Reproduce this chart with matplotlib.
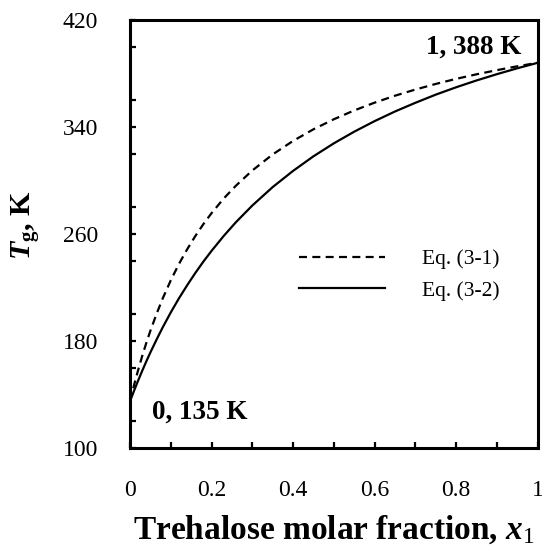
import matplotlib
matplotlib.use("Agg")
import matplotlib.pyplot as plt
from matplotlib.ticker import MultipleLocator

plt.rcParams["font.family"] = ["Liberation Serif", "DejaVu Serif"]
plt.rcParams["mathtext.fontset"] = "custom"
plt.rcParams["mathtext.rm"] = "Liberation Serif"
plt.rcParams["mathtext.it"] = "Liberation Serif:italic"
plt.rcParams["mathtext.bf"] = "Liberation Serif:bold"
plt.rcParams["mathtext.bfit"] = "Liberation Serif:bold:italic"

# Glass transition temperature vs trehalose molar fraction
x1 = [0.0, 0.01, 0.02, 0.03, 0.04, 0.05, 0.065, 0.08, 0.1, 0.12, 0.14,
      0.16, 0.18, 0.2, 0.23, 0.26, 0.3, 0.35, 0.4, 0.45, 0.5, 0.55, 0.6,
      0.65, 0.7, 0.75, 0.8, 0.85, 0.9, 0.95, 1.0]
tg_eq31 = [135, 147.2, 158.4, 168.9, 178.6, 187.7, 200.2, 211.7, 225.4,
           237.6, 248.5, 258.4, 267.4, 275.6, 286.6, 296.2, 307.5, 319.5,
           329.6, 338.3, 345.8, 352.4, 358.2, 363.4, 368.0, 372.2, 376.0,
           379.4, 382.5, 385.4, 388]
tg_eq32 = [135, 142.9, 150.5, 157.8, 164.8, 171.5, 181.0, 190.1, 201.4,
           211.9, 221.6, 230.8, 239.4, 247.4, 258.6, 268.9, 281.3, 295.1,
           307.2, 318.1, 327.8, 336.5, 344.4, 351.6, 358.1, 364.2, 369.7,
           374.8, 379.5, 383.9, 388]
series_labels = ["Eq. (3-1)", "Eq. (3-2)"]
endpoint_labels = ["0, 135 K", "1, 388 K"]
xticks = [0, 0.2, 0.4, 0.6, 0.8, 1.0]
xtick_labels = ["0", "0.2", "0.4", "0.6", "0.8", "1"]
yticks = [100, 180, 260, 340, 420]

fig = plt.figure(figsize=(5.42, 5.51), dpi=100)
ax = fig.add_axes([0.2399, 0.1869, 0.7521, 0.7768])

ax.plot(x1, tg_eq31, color="black", lw=1.6, linestyle=(0, (3.6, 2.4)),
        label=series_labels[0])
ax.plot(x1, tg_eq32, color="black", lw=1.6, label=series_labels[1])

ax.set_xlim(0, 1)
ax.set_ylim(100, 420)
ax.set_xticks(xticks)
ax.set_xticklabels(xtick_labels)
ax.set_yticks(yticks)
ax.xaxis.set_minor_locator(MultipleLocator(0.1))
ax.yaxis.set_minor_locator(MultipleLocator(40))

for s in ax.spines.values():
    s.set_linewidth(2.2)
ax.tick_params(which="both", direction="in", width=1.6, length=4.5,
               top=False, right=False, labelsize=17, pad=23)

ax.set_xlabel(r"Trehalose molar fraction, $\mathbfit{x}_{\mathrm{1}}$",
              fontsize=24, fontweight="bold", labelpad=9)
ax.set_ylabel(r"$\mathbfit{T}_{\mathbf{g}}$, K", fontsize=21.5,
              fontweight="bold")
ax.yaxis.set_label_coords(-0.215, 0.52)

ax.text(0.053, 0.069, endpoint_labels[0], transform=ax.transAxes,
        fontsize=19.5, fontweight="bold", ha="left", va="baseline")
ax.text(0.961, 0.922, endpoint_labels[1], transform=ax.transAxes,
        fontsize=19.5, fontweight="bold", ha="right", va="baseline")

ax.legend(loc="upper left", bbox_to_anchor=(0.415, 0.465), frameon=False,
          fontsize=15.5, handlelength=4.0, handletextpad=1.7,
          labelspacing=0.55, borderaxespad=0, borderpad=0)

fig.savefig("out.png", dpi=100)
